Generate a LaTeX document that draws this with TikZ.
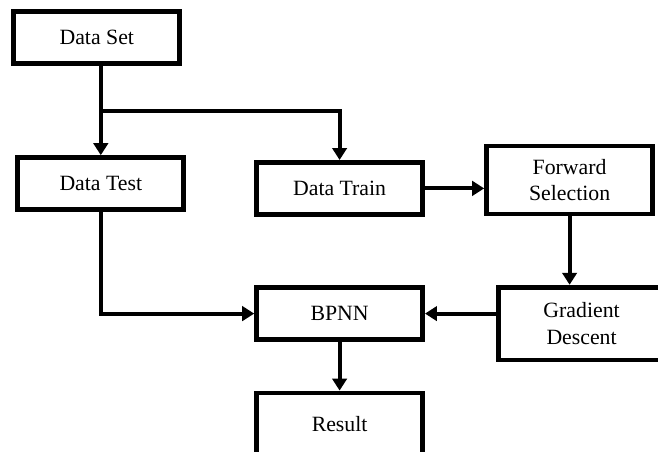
\documentclass[tikz,border=0pt]{standalone}
\usepackage{xcolor}
\usepackage{fontspec}
\setmainfont{Liberation Serif}
\usepackage{tikz}
\usetikzlibrary{arrows.meta, calc}
\tikzstyle{process} = [rectangle, minimum width=4.15cm, minimum height=1.3cm, text centered, align=center, draw=black, line width=3.4pt, font=\fontsize{15.5}{19}\selectfont]
\tikzstyle{arrow} = [line width=2.9pt,-{Triangle[length=0.3cm,width=0.36cm]}]

\begin{document}
\begin{tikzpicture}[node distance=3cm]

\useasboundingbox (0,0) rectangle (16.45,-11.3);
\clip (0,0) rectangle (16.45,-11.3);

% Nodes
\node (dataset) [process] at (2.42,-0.94) {Data Set};
\node (datatest) [process, below of=dataset, xshift=0.1cm, yshift=-0.65cm] {Data Test};
\node (datatrain) [process, right of=datatest, xshift=2.97cm, yshift=-0.12cm] {Data Train};
\node (forward) [process, right of=datatrain, xshift=2.75cm, yshift=0.21cm, minimum height=1.7cm] {Forward\\Selection};
\node (bpnn) [process, below of=datatrain, yshift=-0.13cm] {BPNN};
\node (gradient) [process, right of=bpnn, xshift=3.05cm, yshift=-0.25cm, minimum height=1.82cm] {Gradient\\Descent};
\node (result) [process, below of=bpnn, yshift=0.24cm, minimum height=1.55cm] {Result};

% Arrows
\coordinate (split) at ($(datatest.north |- dataset.south)+(0,-1.13)$);
\draw [arrow] (datatest.north |- dataset.south) -- (datatest.north);
\draw [arrow] (split) -| (datatrain.north);
\draw [arrow] (datatest.south) |- (bpnn.west);
\draw [arrow] (datatrain.east) -- (forward.west |- datatrain.east);
\draw [arrow] (forward.south) -- (forward.south |- gradient.north);
\draw [arrow] (gradient.west |- bpnn.east) -- (bpnn.east);
\draw [arrow] (bpnn.south) -- (result.north);

\end{tikzpicture}
\end{document}
